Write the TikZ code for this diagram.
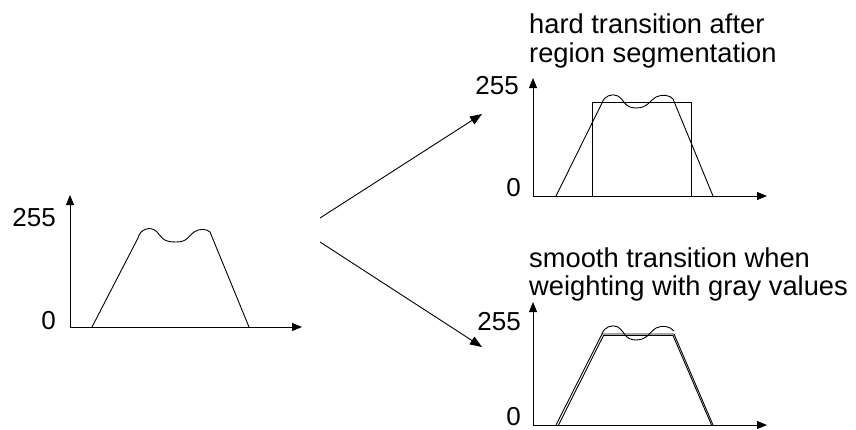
\documentclass[tikz,border=0pt]{standalone}
\usepackage{fontspec}
\setmainfont{Liberation Sans}
\usetikzlibrary{arrows.meta}
\begin{document}
\begin{tikzpicture}[x=1pt,y=-1pt,
  axis/.style={line width=0.9pt,-{Triangle[length=10pt,width=8pt]}},
  curve/.style={line width=0.9pt},
  conn/.style={line width=0.9pt,-{Triangle[length=12pt,width=9pt]}},
  lbl/.style={inner sep=0pt,anchor=base east,font=\fontsize{26}{30}\selectfont},
  ttl/.style={inner sep=0pt,anchor=base west,font=\fontsize{27.3}{29}\selectfont}]
\useasboundingbox (0,0) rectangle (856,429);
% left graph
\coordinate (lo) at (70,327);
\coordinate (ly) at (70,195);
\coordinate (lx) at (302,327);
\draw[axis] (lo) -- (ly);
\draw[axis] (lo) -- (lx);
\node[lbl] (l255) at (56,226) {255};
\node[lbl] (l0) at (56,329) {0};
\draw[curve] (92,327) -- (138,238) .. controls (140,229) and (150,226) .. (156,231)
  .. controls (162,237) and (162,242) .. (176,242) .. controls (188,242) and (188,236) .. (194,232)
  .. controls (200,228) and (207,229) .. (210,232) -- (249,327);
% connectors
\coordinate (s1) at (320,218);
\coordinate (e1) at (482,114);
\coordinate (s2) at (320,242);
\coordinate (e2) at (482,347);
\draw[conn] (s1) -- (e1);
\draw[conn] (s2) -- (e2);
% top right graph
\coordinate (ao) at (533,196);
\coordinate (ay) at (533,78);
\coordinate (ax) at (767,196);
\draw[axis] (ao) -- (ay);
\draw[axis] (ao) -- (ax);
\node[lbl] (a255) at (519,94) {255};
\node[lbl] (a0) at (521,196) {0};
\node[ttl] (at1) at (529,33) {hard transition after};
\node[ttl] (at2) at (529,62) {region segmentation};
\draw[curve] (592,196) rectangle (691,102);
\draw[curve] (556,196) -- (602,103) .. controls (604,96) and (612,93) .. (618,96)
  .. controls (624,99) and (624,108) .. (636,108) .. controls (648,108) and (650,100) .. (656,97)
  .. controls (662,94) and (670,95) .. (673,99) -- (713,196);
% bottom right graph
\coordinate (bo) at (533,425);
\coordinate (by) at (533,302);
\coordinate (bx) at (767,425);
\draw[axis] (bo) -- (by);
\draw[axis] (bo) -- (bx);
\node[lbl] (b255) at (521,330) {255};
\node[lbl] (b0) at (521,425) {0};
\node[ttl] (bt1) at (529,267) {smooth transition when};
\node[ttl] (bt2) at (529,295) {weighting with gray values};
\draw[curve] (556,425) -- (602,334) -- (674,334) -- (713,425);
\draw[curve] (558.5,425) -- (603.5,335.5) -- (673,335.5) -- (711.5,425);
\draw[curve] (602,334) .. controls (604,327) and (612,324) .. (618,327)
  .. controls (624,330) and (624,340) .. (636,340) .. controls (648,340) and (650,331) .. (656,328)
  .. controls (662,325) and (670,326) .. (674,331);
\end{tikzpicture}
\end{document}
